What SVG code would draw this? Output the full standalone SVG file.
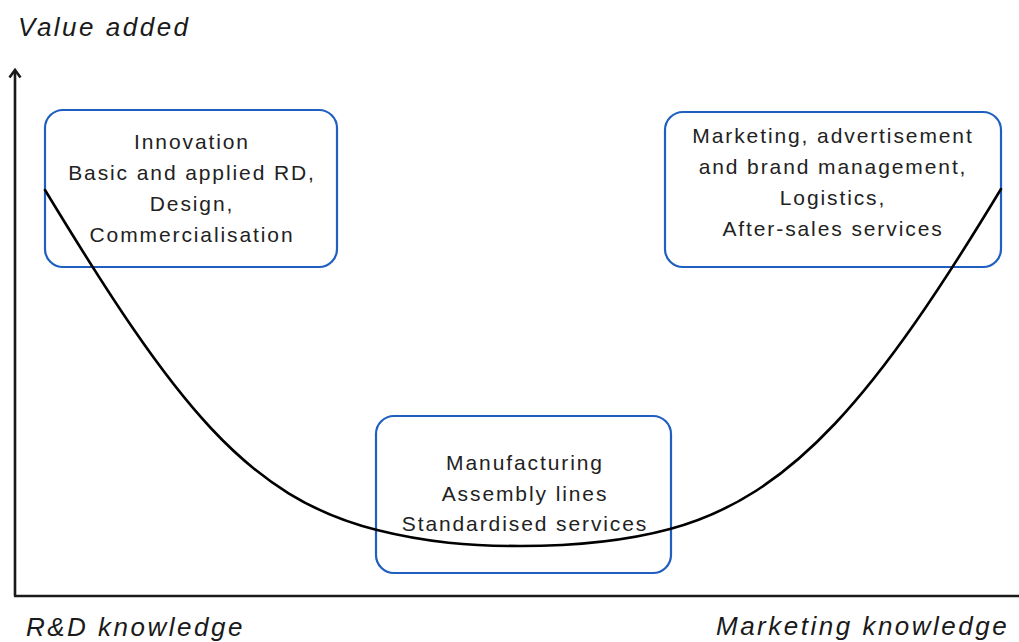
<svg xmlns="http://www.w3.org/2000/svg" width="1019" height="642" viewBox="0 0 1019 642">
  <style>
    .box { fill: #ffffff; stroke: #1f5fbf; stroke-width: 2.2; }
    .label { font-family: "Liberation Sans", Arial, sans-serif; font-size: 21px; letter-spacing: 1.9px; fill: #222222; text-anchor: middle; }
    .axis-label { font-family: "Liberation Sans", Arial, sans-serif; font-size: 26px; font-style: italic; letter-spacing: 2.5px; fill: #1a1a1a; }
    .axis { stroke: #1a1a1a; stroke-width: 2.6; fill: none; }
    .curve { stroke: #000000; stroke-width: 2.6; fill: none; stroke-linecap: round; }
  </style>
  <rect width="1019" height="642" fill="#ffffff"/>

  <!-- axes -->
  <g id="axes">
    <path class="axis" d="M15,596 L15,71"/>
    <path class="axis" d="M9.5,77.5 L15,70 L20.5,77.5" stroke-linejoin="miter"/>
    <path class="axis" d="M14,596 L1019,596"/>
    <text class="axis-label" x="18" y="36">Value added</text>
    <text class="axis-label" x="26" y="636">R&amp;D knowledge</text>
    <text class="axis-label" x="716" y="635">Marketing knowledge</text>
  </g>

  <!-- boxes -->
  <g id="node-innovation">
    <rect class="box" x="45" y="110" width="292" height="157" rx="18"/>
  </g>
  <g id="node-marketing">
    <rect class="box" x="665" y="112" width="336" height="155" rx="18"/>
  </g>
  <g id="node-manufacturing">
    <rect class="box" x="376" y="416" width="295" height="157" rx="18"/>
  </g>

  <!-- value curve (smile) -->
  <g id="connectors">
    <path class="curve" d="M45,190 C175,404.5 247,497.5 377,530 C427,542.5 470,546 520,546 C570,546 620,542.5 670,529 C793,495.8 877,394.2 1001,189"/>
  </g>

  <!-- box texts -->
  <g id="text-innovation">
    <text class="label" x="192" y="149">Innovation</text>
    <text class="label" x="192" y="180">Basic and applied RD,</text>
    <text class="label" x="192" y="211">Design,</text>
    <text class="label" x="192" y="242">Commercialisation</text>
  </g>
  <g id="text-marketing">
    <text class="label" x="833" y="143">Marketing, advertisement</text>
    <text class="label" x="833" y="174">and brand management,</text>
    <text class="label" x="833" y="205">Logistics,</text>
    <text class="label" x="833" y="236">After-sales services</text>
  </g>
  <g id="text-manufacturing">
    <text class="label" x="525" y="470">Manufacturing</text>
    <text class="label" x="525" y="501">Assembly lines</text>
    <text class="label" x="525" y="531">Standardised services</text>
  </g>
</svg>
